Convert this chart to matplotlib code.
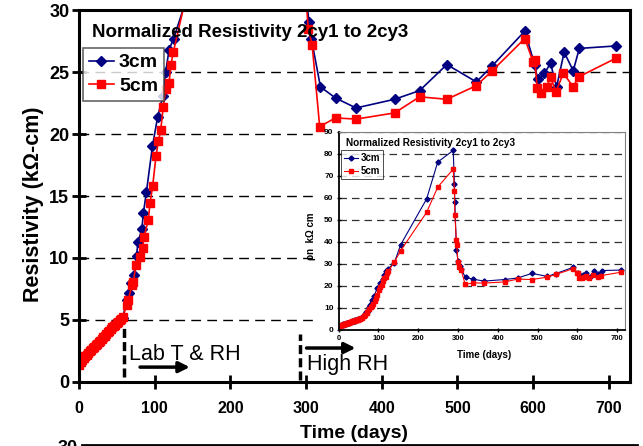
import matplotlib
matplotlib.use('Agg')
import matplotlib.pyplot as plt
from matplotlib.patches import Rectangle
from matplotlib.lines import Line2D

plt.rcParams['font.family'] = ['Liberation Sans', 'DejaVu Sans']

# ---------------- data ----------------
days_3cm = [0, 2, 4, 6, 8, 10, 12, 14, 16, 18, 20, 22, 24, 26, 28, 30, 32, 34, 36, 38,
            40, 42, 44, 46, 48, 50, 52, 54, 56, 58,
            63, 66, 69, 73, 76, 78, 83, 85, 89, 97, 104, 111, 114.5, 119, 125, 140, 156,
            221, 249, 288, 291, 292, 296, 300, 304, 307, 319, 339, 366, 417, 450, 486,
            525, 546, 589, 602, 606, 615, 623, 631, 641, 653, 661, 709]
res_3cm = [1.5, 1.7, 1.85, 2.0, 2.1, 2.25, 2.4, 2.5, 2.65, 2.8, 2.9, 3.0, 3.15, 3.25, 3.3,
           3.5, 3.65, 3.8, 3.9, 4.0, 4.15, 4.3, 4.4, 4.5, 4.65, 4.8, 4.9, 5.0, 5.1, 5.2,
           6.6, 7.2, 8.0, 8.6, 10.2, 11.3, 12.3, 13.6, 15.3, 19.0, 21.4, 23.1, 25.0, 26.8,
           27.7, 30.5, 38.7, 59.4, 76.2, 81.5, 66.1, 58.2, 36.4, 31.1, 29.0, 27.7, 23.8,
           22.9, 22.1, 22.8, 23.5, 25.6, 24.2, 25.5, 28.3, 25.6, 24.4, 24.9, 25.7, 23.8,
           26.6, 25.1, 26.9, 27.1]

days_5cm = [0, 2, 4, 6, 8, 10, 12, 14, 16, 18, 20, 22, 24, 26, 28, 30, 32, 34, 36, 38,
            40, 42, 44, 46, 48, 50, 52, 54, 56, 58,
            63, 65, 70, 72, 75, 80, 84, 86, 91.6, 93.8, 97.3, 101.7, 104.8, 107.9, 111.4,
            114.5, 118.9, 121.5, 124.6, 140, 156, 221, 249, 288, 291, 292, 296, 297, 300,
            303, 308, 318, 339, 366, 417, 450, 486, 525, 546, 589, 600, 602, 605.5, 611,
            618, 623, 630, 640, 653, 660, 709]
res_5cm = [1.4, 1.6, 1.8, 1.95, 2.1, 2.2, 2.35, 2.5, 2.6, 2.75, 2.85, 3.0, 3.1, 3.2, 3.3,
           3.45, 3.6, 3.75, 3.9, 4.0, 4.1, 4.25, 4.4, 4.5, 4.6, 4.75, 4.85, 5.0, 5.1, 5.25,
           6.2, 6.6, 7.8, 8.1, 9.4, 10.1, 10.8, 11.7, 13.1, 14.4, 15.8, 18.2, 19.4, 20.3,
           22.2, 23.6, 24.1, 25.6, 26.6, 30.7, 36.0, 53.3, 64.8, 73.0, 63.2, 52.1, 40.7,
           38.4, 30.8, 28.5, 27.2, 20.6, 21.3, 21.2, 21.7, 23.0, 22.8, 23.9, 25.1, 27.7,
           25.8, 26.0, 23.7, 23.3, 23.8, 24.6, 23.4, 24.9, 23.8, 24.6, 26.1]

series_labels = ['3cm', '5cm']
x_ticks = [0, 100, 200, 300, 400, 500, 600, 700]
y_ticks_main = [0, 5, 10, 15, 20, 25, 30]
y_ticks_inset = [0, 10, 20, 30, 40, 50, 60, 70, 80, 90]

BLUE = '#000080'
RED = '#FF0000'

W, H = 643, 446
fig = plt.figure(figsize=(W / 100, H / 100), dpi=100)


def fx(px):
    return px / W


def fy(py):
    return 1 - py / H


# ---------------- main axes ----------------
ax = fig.add_axes([fx(79), fy(382), (630 - 79) / W, (382 - 10) / H])
ax.set_xlim(0, 728)
ax.set_ylim(0, 30)
ax.set_xticks(x_ticks)
ax.set_yticks(y_ticks_main)
ax.set_axisbelow(True)
ax.yaxis.grid(True, linestyle=(0, (7, 4.5)), color='black', lw=1.0, zorder=0.5)
for s in ax.spines.values():
    s.set_linewidth(2.2)
ax.tick_params(axis='both', direction='inout', length=10, width=2)
ax.tick_params(axis='x', labelsize=11.5, pad=9)
ax.tick_params(axis='y', labelsize=13, pad=2)
for lab in ax.get_xticklabels() + ax.get_yticklabels():
    lab.set_fontweight('bold')

l1, = ax.plot(days_3cm, res_3cm, color=BLUE, lw=1.2, marker='D', ms=5,
              mfc=BLUE, mec=BLUE, zorder=2, label=series_labels[0])
l2, = ax.plot(days_5cm, res_5cm, color=RED, lw=1.2, marker='s', ms=6,
              mfc=RED, mec=RED, zorder=2.1, label=series_labels[1])

# white backing for inset
ax.add_patch(Rectangle((fx(316), fy(362)), fx(629) - fx(316), fy(130) - fy(362),
                       transform=fig.transFigure, facecolor='white', edgecolor='none',
                       zorder=1.5, clip_on=False))

# event markers
ax.plot([60, 60], [0.4, 4.4], color='black', lw=2.5, ls=(0, (2.6, 1.2)), zorder=4)
ax.plot([292, 292], [0.2, 3.9], color='black', lw=2.5, ls=(0, (2.6, 1.2)), zorder=4)
ax.annotate('', xy=(150, 1.2), xytext=(77, 1.2),
            arrowprops=dict(arrowstyle='-|>', lw=2.5, color='black', mutation_scale=16),
            zorder=5)
ax.annotate('', xy=(369, 2.74), xytext=(297, 2.74),
            arrowprops=dict(arrowstyle='-|>', lw=2.5, color='black', mutation_scale=16),
            zorder=5)
ax.text(66, 1.77, 'Lab T & RH', fontsize=15.5, va='baseline', ha='left', zorder=5)
ax.text(301, 0.97, 'High RH', fontsize=15.5, va='baseline', ha='left', zorder=5)

leg = ax.legend(handles=[l1, l2], loc='upper left',
                bbox_to_anchor=(fx(83), fy(48)), bbox_transform=fig.transFigure,
                prop=dict(size=14, weight='bold'), frameon=True, fancybox=False,
                borderpad=0.3, handlelength=1.3, handletextpad=0.25,
                labelspacing=0.3, borderaxespad=0)
leg.get_frame().set_edgecolor('#404040')
leg.get_frame().set_linewidth(1.2)
leg.set_zorder(6)

fig.text(fx(92), fy(37), 'Normalized Resistivity 2cy1 to 2cy3', fontsize=13.5,
         fontweight='bold', va='baseline', ha='left')
fig.text(fx(354), fy(438), 'Time (days)', fontsize=14, fontweight='bold',
         va='baseline', ha='center')
fig.text(fx(34), fy(204), 'Resistivity (k\u03a9-cm)', fontsize=15.5, fontweight='bold',
         rotation=90, va='center', ha='center')

# ---------------- inset ----------------
ins = fig.add_axes([fx(338.7), fy(329.7), (625 - 338.7) / W, (329.7 - 131.7) / H])
ins.set_xlim(0, 720)
ins.set_ylim(0, 90)
ins.set_xticks(x_ticks)
ins.set_yticks(y_ticks_inset)
ins.set_axisbelow(True)
ins.yaxis.grid(True, linestyle=(0, (6, 4)), color='#303030', lw=0.9)
ins.spines['left'].set_linewidth(1.3)
ins.spines['bottom'].set_linewidth(1.3)
ins.spines['top'].set_color('#808080')
ins.spines['right'].set_color('#808080')
ins.spines['top'].set_linewidth(0.8)
ins.spines['right'].set_linewidth(0.8)
ins.tick_params(axis='both', direction='inout', length=3.5, width=1, pad=2)
ins.tick_params(axis='x', labelsize=5.5)
ins.tick_params(axis='y', labelsize=6)
for lab in ins.get_xticklabels() + ins.get_yticklabels():
    lab.set_fontweight('bold')

i1, = ins.plot(days_3cm, res_3cm, color=BLUE, lw=0.8, marker='D', ms=2.6,
               mfc=BLUE, mec=BLUE, label=series_labels[0])
i2, = ins.plot(days_5cm, res_5cm, color=RED, lw=0.8, marker='s', ms=3.4,
               mfc=RED, mec=RED, label=series_labels[1])
il = ins.legend(handles=[i1, i2], loc='upper left',
                bbox_to_anchor=(fx(341), fy(150)), bbox_transform=fig.transFigure,
                prop=dict(size=7, weight='bold'), frameon=True, fancybox=False,
                borderpad=0.3, handlelength=1.4, handletextpad=0.3,
                labelspacing=0.35, borderaxespad=0)
il.get_frame().set_edgecolor('#202020')
il.get_frame().set_linewidth(0.7)

fig.text(fx(346), fy(146), 'Normalized Resistivity 2cy1 to 2cy3', fontsize=7.2,
         fontweight='bold', va='baseline', ha='left')
fig.text(fx(484), fy(355), 'Time (days)', fontsize=7, fontweight='bold',
         va='center', ha='center')
fig.text(fx(311), fy(236), '\u03c1n  k\u03a9 cm', fontsize=7, fontweight='bold',
         rotation=90, va='center', ha='center')

# ---------------- top of next panel (cut off in the reference too) ----------------
fig.text(fx(58), fy(440), '30', fontsize=13, fontweight='bold', va='top', ha='left')
fig.add_artist(Line2D([fx(82), fx(637)], [fy(445), fy(445)], color='black', lw=2,
                      transform=fig.transFigure))

fig.savefig('out.png', dpi=100)
